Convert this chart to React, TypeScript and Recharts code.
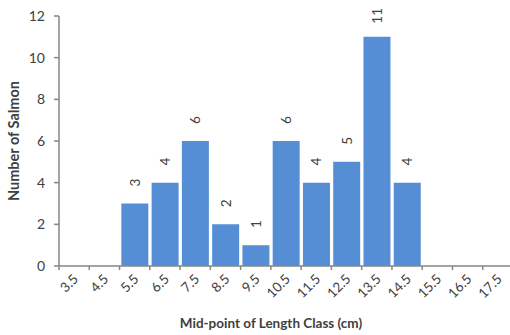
import React from "react";
import { Bar, BarChart, LabelList, Label, XAxis, YAxis } from "recharts";

const categories = ["3.5", "4.5", "5.5", "6.5", "7.5", "8.5", "9.5", "10.5", "11.5", "12.5", "13.5", "14.5", "15.5", "16.5", "17.5"];
const counts = [0, 0, 3, 4, 6, 2, 1, 6, 4, 5, 11, 4, 0, 0, 0];
const yTicks = [0, 2, 4, 6, 8, 10, 12];

const data = categories.map((mid, i) => ({ mid, count: counts[i] }));

const CHART_W = 520;
const CHART_H = 335;
const Y_AXIS_W = 59;
const MARGIN = { top: 16, right: 7, left: 0, bottom: 0 };
const BAND = (CHART_W - Y_AXIS_W - MARGIN.left - MARGIN.right) / categories.length;

const AXIS = "#868686";
const TEXT = "#404040";
const FONT = "Lato, 'Liberation Sans', sans-serif";

const XTick = (props: any) => {
    const { x, y, payload } = props;
    const left = x - BAND / 2;
    return (
        <g>
            <line x1={left} x2={left} y1={y} y2={y + 4} stroke={AXIS} strokeWidth={1.5} />
            <text
                x={x + 5}
                y={y + 14}
                textAnchor="end"
                fontSize={13.5}
                fill={TEXT}
                fontFamily={FONT}
                transform={`rotate(-45 ${x + 5} ${y + 14})`}
            >
                {payload.value}
            </text>
        </g>
    );
};

const BarValue = (props: any) => {
    const { x, y, width, value } = props;
    if (!value) return null;
    const cx = x + width / 2;
    const cy = y - 21;
    return (
        <text
            x={cx}
            y={cy}
            textAnchor="middle"
            dominantBaseline="central"
            fontSize={13.5}
            fill={TEXT}
            fontFamily={FONT}
            transform={`rotate(-90 ${cx} ${cy})`}
        >
            {value}
        </text>
    );
};

export default function App() {
    return (
        <div style={{ position: "absolute", left: 0, top: 0, width: 510, height: 335, overflow: "hidden", background: "#fff" }}>
            <BarChart width={CHART_W} height={CHART_H} data={data} margin={MARGIN} barCategoryGap="6%">
                <XAxis
                    dataKey="mid"
                    height={69}
                    stroke={AXIS}
                    strokeWidth={1.5}
                    tickLine={false}
                    tickSize={0}
                    tickMargin={0}
                    tick={<XTick />}
                    interval={0}
                >
                    <Label
                        value="Mid-point of Length Class (cm)"
                        position="insideBottom"
                        offset={7}
                        dx={-15}
                        style={{ fontFamily: FONT, fontWeight: 700, fontSize: 13.5, fill: TEXT }}
                    />
                </XAxis>
                <YAxis
                    width={Y_AXIS_W}
                    domain={[0, 12]}
                    ticks={yTicks}
                    stroke={AXIS}
                    strokeWidth={1.5}
                    tickSize={5}
                    tickMargin={9}
                    tick={{ fontFamily: FONT, fontSize: 14, fill: TEXT }}
                >
                    <Label
                        value="Number of Salmon"
                        angle={-90}
                        position="insideLeft"
                        offset={14}
                        style={{ textAnchor: "middle", fontFamily: FONT, fontWeight: 700, fontSize: 14.5, fill: TEXT }}
                    />
                </YAxis>
                <Bar dataKey="count" fill="#558ed5" isAnimationActive={false}>
                    <LabelList dataKey="count" content={<BarValue />} />
                </Bar>
            </BarChart>
        </div>
    );
}
